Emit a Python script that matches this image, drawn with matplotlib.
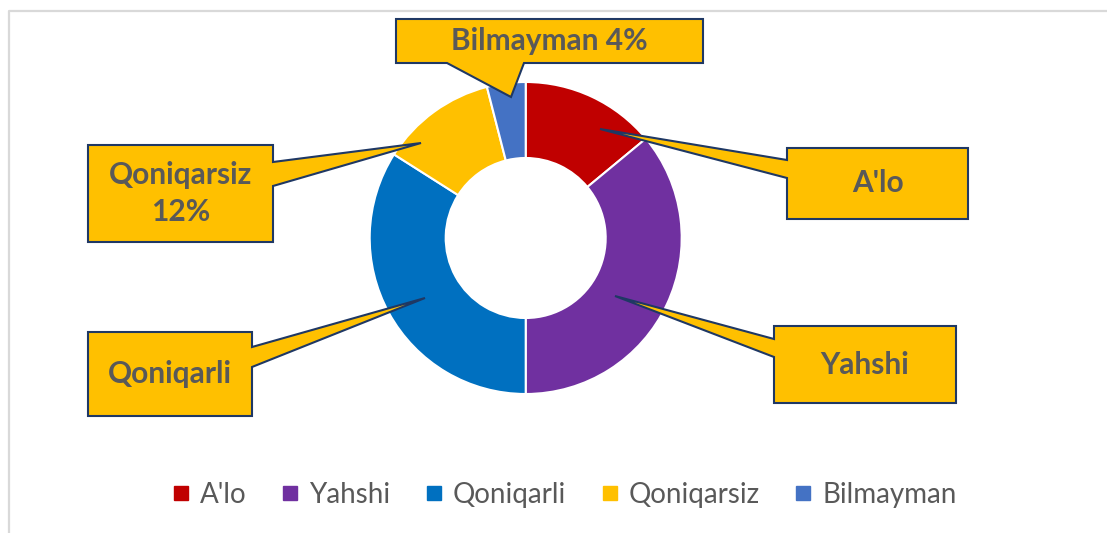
import matplotlib.pyplot as plt
from matplotlib.patches import Polygon
from matplotlib.lines import Line2D

plt.rcParams['font.family'] = ['Lato', 'DejaVu Sans']

categories = ["A'lo", "Yahshi", "Qoniqarli", "Qoniqarsiz", "Bilmayman"]
shares = [14, 36, 34, 12, 4]
colors = ["#C00000", "#7030A0", "#0070C0", "#FFC000", "#4472C4"]
callout_labels = ["A'lo", "Yahshi", "Qoniqarli", "Qoniqarsiz\n12%", "Bilmayman 4%"]

W, H = 1107, 533
grey = "#595959"

fig = plt.figure(figsize=(W / 100, H / 100), dpi=100)
ax = fig.add_axes([0, 0, 1, 1])

# donut, clockwise from the top
ax.pie(shares, colors=colors, startangle=90, counterclock=False,
       radius=156, center=(525.7, H - 238),
       wedgeprops=dict(width=76, edgecolor='white', linewidth=1.5))

# callout boxes in pixel coords (y down): side of pointer, box, pointer base, tip
callouts = [
    ("left", (787, 148, 968, 219), (160, 178), (600, 129)),
    ("left", (774, 326, 956, 403), (339, 357), (615, 296)),
    ("right", (88, 332, 252, 416), (347, 367), (425, 298)),
    ("right", (88, 145, 273, 242), (162, 186), (421, 143)),
    ("bottom", (396, 19, 703, 63), (447, 524), (511, 97)),
]


def callout_shape(side, box, base, tip):
    x0, y0, x1, y1 = box
    b0, b1 = base
    if side == "left":
        pts = [(x0, y0), (x1, y0), (x1, y1), (x0, y1), (x0, b1), tip, (x0, b0)]
    elif side == "right":
        pts = [(x0, y0), (x1, y0), (x1, b0), tip, (x1, b1), (x1, y1), (x0, y1)]
    else:
        pts = [(x0, y0), (x1, y0), (x1, y1), (b1, y1), tip, (b0, y1), (x0, y1)]
    return [(x, H - y) for x, y in pts]


for (side, box, base, tip), label in zip(callouts, callout_labels):
    ax.add_patch(Polygon(callout_shape(side, box, base, tip), closed=True,
                         facecolor="#FFC000", edgecolor="#1F3864",
                         linewidth=1.5, joinstyle='miter', zorder=5))
    x0, y0, x1, y1 = box
    ax.text((x0 + x1) / 2, H - (y0 + y1) / 2, label, ha='center', va='center',
            fontsize=21.5, fontweight='bold', color=grey, linespacing=1.35,
            zorder=6)

# chart frame (only top and left show)
ax.plot([9, 9, W], [0, H - 11, H - 11], color="#D9D9D9", linewidth=1.6,
        solid_capstyle='butt')

handles = [Line2D([], [], marker='s', linestyle='none', markersize=9.5,
                  markerfacecolor=c, markeredgecolor=c) for c in colors]
ax.legend(handles, categories, loc='center', ncol=5,
          bbox_to_anchor=(565 / W, (H - 495) / H), frameon=False,
          fontsize=20, labelcolor=grey, handlelength=0.55,
          handletextpad=0.4, columnspacing=1.3)

ax.set_xlim(0, W)
ax.set_ylim(0, H)
ax.set_aspect('equal')
ax.axis('off')

fig.savefig("out.png", dpi=100)
